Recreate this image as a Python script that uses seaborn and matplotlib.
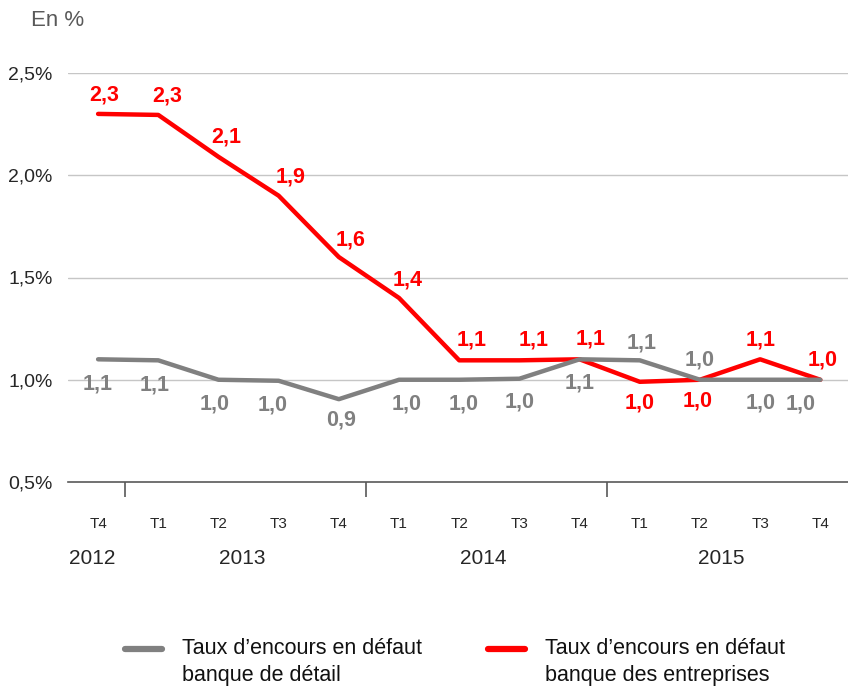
import pandas as pd
import numpy as np
import matplotlib
matplotlib.use('Agg')
import matplotlib.pyplot as plt
import seaborn as sns
from matplotlib.lines import Line2D

# Data (in %)
quarters = ['T4', 'T1', 'T2', 'T3', 'T4', 'T1', 'T2', 'T3', 'T4', 'T1', 'T2', 'T3', 'T4']
years = ['2012', '2013', '2014', '2015']
retail = [1.10, 1.095, 1.00, 0.995, 0.905, 1.00, 1.00, 1.005, 1.10, 1.095, 1.00, 1.00, 1.00]
corporate = [2.30, 2.295, 2.09, 1.90, 1.60, 1.40, 1.095, 1.095, 1.10, 0.99, 1.00, 1.10, 1.00]
y_ticks = [0.5, 1.0, 1.5, 2.0, 2.5]

LBL_RETAIL = 'Taux d\u2019encours en d\u00e9faut\nbanque de d\u00e9tail'
LBL_CORP = 'Taux d\u2019encours en d\u00e9faut\nbanque des entreprises'
GRAY = '#808080'
RED = '#ff0000'

sns.set_style('white')
plt.rcParams['font.family'] = ['Liberation Sans', 'DejaVu Sans']

df = pd.DataFrame({
    'idx': list(range(len(quarters))) * 2,
    'val': corporate + retail,
    'serie': [LBL_CORP] * len(corporate) + [LBL_RETAIL] * len(retail),
})

fig = plt.figure(figsize=(8.48, 6.86), dpi=100)
ax = fig.add_axes([68 / 848, 204 / 686, 780 / 848, 409 / 686])

# horizontal gridlines
for y in y_ticks[1:]:
    ax.axhline(y, color='#c6c6c6', lw=1, zorder=0)

sns.lineplot(data=df, x='idx', y='val', hue='serie', hue_order=[LBL_CORP, LBL_RETAIL],
             palette={LBL_CORP: RED, LBL_RETAIL: GRAY}, linewidth=3.2, legend=False, ax=ax)

ax.set_xlim(-0.5, 12.46)
ax.set_ylim(0.5, 2.5)
ax.set_xlabel('')
ax.set_ylabel('')

for s in ['top', 'right', 'left']:
    ax.spines[s].set_visible(False)
ax.spines['bottom'].set_color('#595959')
ax.spines['bottom'].set_linewidth(1.2)

ax.set_yticks(y_ticks)
ax.set_yticklabels([f'{v:.1f}%'.replace('.', ',') for v in y_ticks], fontsize=14)
ax.tick_params(axis='y', length=0, pad=11)

# year separators + quarter labels
ax.set_xticks([0.45, 4.45, 8.45])
ax.set_xticklabels([])
ax.tick_params(axis='x', which='major', bottom=True, length=11, width=1.2,
               color='#595959', direction='out')
ax.set_xticks(range(len(quarters)), minor=True)
ax.set_xticklabels(quarters, minor=True, fontsize=11)
ax.tick_params(axis='x', which='minor', bottom=True, length=0, pad=25.5)

year_pos = [-0.1, 2.4, 6.4, 10.35]
for yr, xp in zip(years, year_pos):
    ax.annotate(yr, xy=(xp, 0), xycoords=('data', 'axes fraction'), xytext=(0, -76),
                textcoords='offset pixels', ha='center', va='center', fontsize=15)


def fmt(v):
    return f'{v:.1f}'.replace('.', ',')


# value labels
red_off = [(6, 19), (9, 19), (8, 20), (12, 19), (12, 17), (9, 18), (12, 20), (14, 20), (11, 20),
           (0, -21), (-2, -21), (0, 19), (2, 20)]
gray_off = [(0, -25), (-4, -25), (-4, -24), (-6, -24), (2, -21), (8, -24), (4, -24), (0, -23),
            (0, -24), (2, 17), (0, 20), (0, -23), (-20, -24)]
for i, v in enumerate(corporate):
    ax.annotate(fmt(v), xy=(i, v), xytext=red_off[i], textcoords='offset pixels',
                ha='center', va='center', fontsize=15.5, fontweight='bold', color=RED)
for i, v in enumerate(retail):
    ax.annotate(fmt(v), xy=(i, v), xytext=gray_off[i], textcoords='offset pixels',
                ha='center', va='center', fontsize=15.5, fontweight='bold', color=GRAY)

fig.text(31 / 848, 1 - 20 / 686, 'En %', fontsize=16, color='#595959', va='center', ha='left')

# legend
for x0, x1, col, lab in [(125, 162, GRAY, LBL_RETAIL), (488, 525, RED, LBL_CORP)]:
    fig.add_artist(Line2D([x0 / 848, x1 / 848], [1 - 649 / 686] * 2, color=col, lw=4.5))
    l1, l2 = lab.split('\n')
    xt = (x1 + 20) / 848
    fig.text(xt, 1 - 649 / 686, l1, fontsize=15.5, va='center', ha='left', color='#111111')
    fig.text(xt, 1 - 675 / 686, l2, fontsize=15.5, va='center', ha='left', color='#111111')

fig.savefig('out.png', dpi=100)
